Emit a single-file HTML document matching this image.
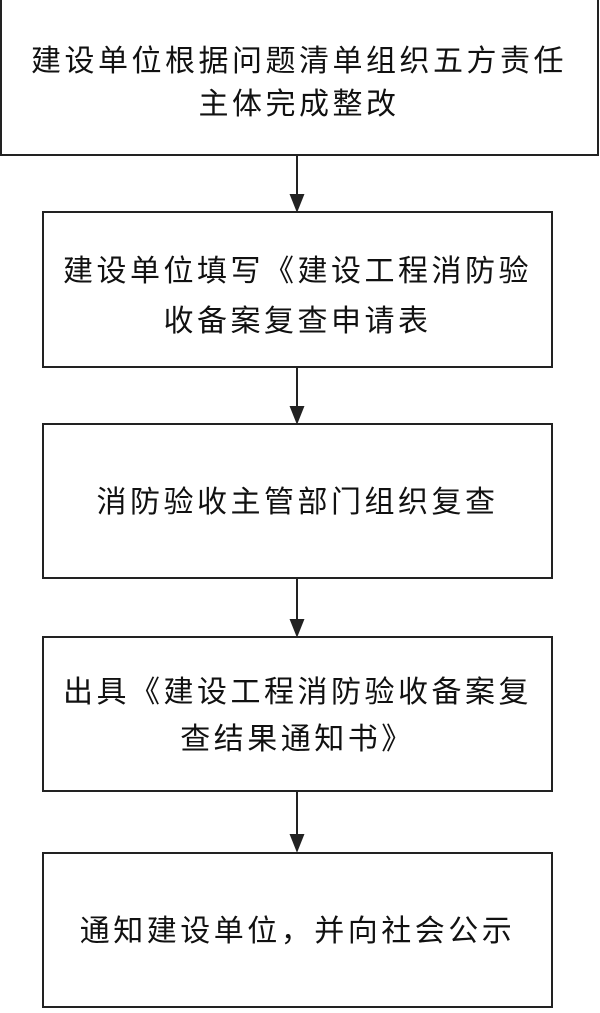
<!DOCTYPE html>
<html><head><meta charset="utf-8"><style>
body{margin:0;width:600px;height:1013px;background:#fff;position:relative;overflow:hidden;font-family:"Liberation Sans","Noto Sans CJK SC","WenQuanYi Zen Hei",sans-serif;color:#111}
.b{position:absolute;border:2px solid #222;box-sizing:border-box}
.t{position:absolute;left:0;right:0;text-align:center;font-size:30px;letter-spacing:3.5px;line-height:40px;white-space:nowrap}
</style></head><body>
<div class="b" style="left:0;top:-4px;width:599px;height:160px"></div>
<div class="t" style="top:42px;left:-2px">建设单位根据问题清单组织五方责任</div>
<div class="t" style="top:85px;left:-2px">主体完成整改</div>

<div class="b" style="left:42px;top:211px;width:511px;height:157px"></div>
<div class="t" style="top:252px;left:42px;width:511px">建设单位填写《建设工程消防验</div>
<div class="t" style="top:302px;left:42px;width:511px">收备案复查申请表</div>

<div class="b" style="left:42px;top:423px;width:511px;height:156px"></div>
<div class="t" style="top:483px;left:42px;width:511px">消防验收主管部门组织复查</div>

<div class="b" style="left:42px;top:636px;width:511px;height:156px"></div>
<div class="t" style="top:673px;left:42px;width:511px">出具《建设工程消防验收备案复</div>
<div class="t" style="top:720px;left:42px;width:511px">查结果通知书》</div>

<div class="b" style="left:42px;top:852px;width:511px;height:156px"></div>
<div class="t" style="top:912px;left:42px;width:511px">通知建设单位，并向社会公示</div>

<svg style="position:absolute;left:0;top:0" width="600" height="1013">
<g stroke="#222" stroke-width="2" fill="#222">
<line x1="297" y1="155" x2="297" y2="196"/><polygon points="291,195 303,195 297,210"/>
<line x1="297" y1="367" x2="297" y2="408"/><polygon points="291,407 303,407 297,422"/>
<line x1="297" y1="578" x2="297" y2="621"/><polygon points="291,620 303,620 297,635"/>
<line x1="297" y1="791" x2="297" y2="836"/><polygon points="291,835 303,835 297,850"/>
</g></svg>
</body></html>
